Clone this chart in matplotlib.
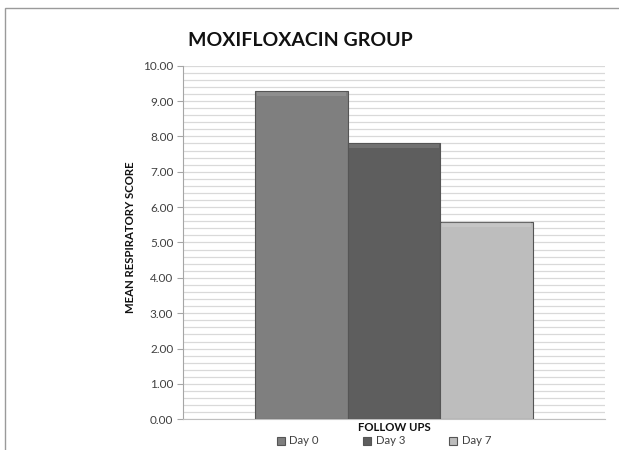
import numpy as np
import matplotlib
matplotlib.use("Agg")
import matplotlib.pyplot as plt
from matplotlib.patches import Rectangle
from matplotlib.ticker import MultipleLocator, FormatStrFormatter

# Mean respiratory score at each follow-up visit
series = ["Day 0", "Day 3", "Day 7"]
scores = [9.28, 7.81, 5.59]
colors = ["#7f7f7f", "#5e5e5e", "#bdbdbd"]
category = ["FOLLOW UPS"]

plt.rcParams["font.family"] = ["Lato", "DejaVu Sans"]

fig = plt.figure(figsize=(6.19, 4.5), dpi=100)
fig.patch.set_facecolor("white")

# Chart area border
fig.add_artist(Rectangle((5 / 619, -0.1), 1.0, 0.1 + (1 - 8 / 450),
                         transform=fig.transFigure, fill=False,
                         edgecolor="#9a9a9a", linewidth=1.0))

ax = fig.add_axes([183 / 619, 1 - 419.3 / 450, (605 - 183) / 619, (419.3 - 65.7) / 450])

width = 0.22
center = 0.5
offsets = (np.arange(len(series)) - (len(series) - 1) / 2) * width
for off, val, col, name in zip(offsets, scores, colors, series):
    ax.bar(center + off, val, width=width, color=col, edgecolor="#555555",
           linewidth=0.8, label=name, zorder=3)
    # soft highlight along the top edge of each bar
    ax.bar(center + off, 0.12, bottom=val - 0.14, width=width * 0.96,
           color="white", alpha=0.12, linewidth=0, zorder=4)

ax.set_xlim(0, 1)
ax.set_ylim(0, 10)
ax.yaxis.set_major_locator(MultipleLocator(1))
ax.yaxis.set_minor_locator(MultipleLocator(0.2))
ax.yaxis.set_major_formatter(FormatStrFormatter("%.2f"))
ax.grid(axis="y", which="both", color="#d9d9d9", linewidth=0.9, zorder=0)
ax.set_axisbelow(True)
ax.set_xticks([])

for s in ["top", "right"]:
    ax.spines[s].set_visible(False)
ax.spines["left"].set_color("#a6a6a6")
ax.spines["bottom"].set_color("#bfbfbf")
ax.tick_params(axis="y", which="major", length=4, color="#a6a6a6",
               labelsize=8.5, labelcolor="#404040", pad=3)
ax.tick_params(axis="y", which="minor", length=0)

ax.set_ylabel("MEAN RESPIRATORY SCORE", fontsize=8.2, fontweight="bold",
              color="#111111", va="center")
ax.yaxis.set_label_coords((130 - 183) / 422, (419.3 - 237) / 353.6)
ax.set_xlabel(category[0], fontsize=8.2, fontweight="bold", color="#111111",
              labelpad=2)

fig.text(300 / 619, 1 - 41 / 450, "MOXIFLOXACIN GROUP", fontsize=14,
         fontweight="bold", ha="center", va="center", color="#111111")

leg = fig.legend(*ax.get_legend_handles_labels(), loc="center",
                 bbox_to_anchor=(384 / 619, 1 - 441 / 450), ncol=3,
                 frameon=False, fontsize=8.2, handlelength=0.7, handleheight=0.7,
                 columnspacing=3.9, handletextpad=0.4, borderaxespad=0,
                 borderpad=0)
for t in leg.get_texts():
    t.set_color("#404040")

fig.savefig("out.png", dpi=100, facecolor="white")
